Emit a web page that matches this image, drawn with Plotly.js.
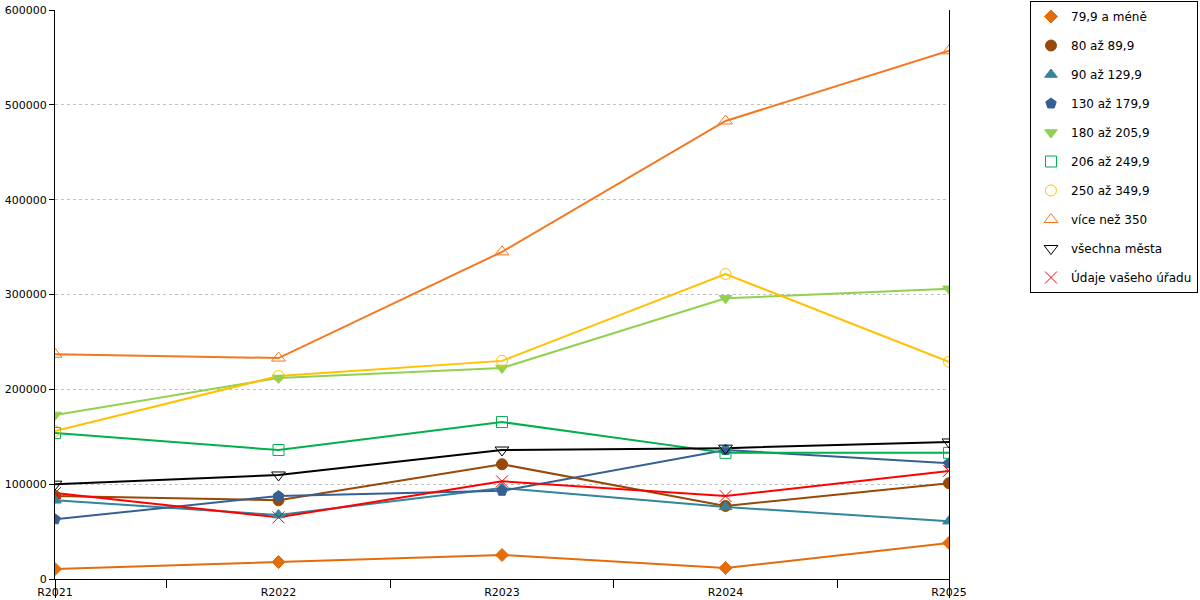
<!DOCTYPE html>
<html>
<head>
<meta charset="utf-8">
<script src="https://cdn.plot.ly/plotly-3.0.1.min.js"></script>
<style>
  html, body { margin: 0; padding: 0; background: #fff; }
  #chart { width: 1200px; height: 600px; }
</style>
</head>
<body>
<div id="chart"></div>
<script>
const years = ["R2021", "R2022", "R2023", "R2024", "R2025"];

const names = [
  "79,9 a méně",
  "80 až 89,9",
  "90 až 129,9",
  "130 až 179,9",
  "180 až 205,9",
  "206 až 249,9",
  "250 až 349,9",
  "více než 350",
  "všechna města",
  "Údaje vašeho úřadu"
];

const s79 = [10500, 17900, 25300, 11600, 38000];
const s80 = [87500, 83000, 121000, 77000, 101000];
const s90 = [83000, 67500, 96000, 76000, 61000];
const s130 = [63000, 87500, 93000, 136000, 122000];
const s180 = [173000, 212000, 222500, 296000, 306000];
const s206 = [154000, 136000, 165500, 133000, 133000];
const s250 = [156000, 214000, 230000, 321600, 229000];
const s350 = [237000, 233000, 345000, 483000, 557000];
const sAll = [100000, 109700, 136000, 138000, 144500];
const sOffice = [90700, 65000, 103000, 87500, 114000];

const values = [s79, s80, s90, s130, s180, s206, s250, s350, sAll, sOffice];

const colors = ["#E46C0A", "#984807", "#31859C", "#366092", "#92D050",
                "#00B050", "#FFC000", "#F5771F", "#000000", "#FF0000"];
const symbols = ["diamond", "circle", "triangle-up", "pentagon", "triangle-down",
                 "square-open", "circle-open", "triangle-up-open", "triangle-down-open", "x-thin-open"];
const sizes = [10, 11, 11, 11, 11, 11, 11, 12, 12, 12];

const midTicks = [0.5, 1.5, 2.5, 3.5];
const edgeTicks = [0, 4];

const data = [];

// lines without markers
values.forEach((vals, i) => {
  data.push({
    x: years, y: vals, type: "scatter", mode: "lines",
    line: { color: colors[i], width: 2 },
    showlegend: false, hoverinfo: "skip"
  });
});

// markers, these also make the legend entries
values.forEach((vals, i) => {
  data.push({
    x: years, y: vals, type: "scatter", mode: "markers",
    name: names[i], legendgroup: "g" + i,
    marker: {
      symbol: symbols[i], size: sizes[i], color: colors[i],
      line: { color: colors[i], width: 1 }
    }
  });
});

// dummy traces so the tick-only axes get drawn
data.push({ x: edgeTicks, y: [null, null], xaxis: "x2", type: "scatter", mode: "lines", showlegend: false, hoverinfo: "skip" });
data.push({ x: edgeTicks, y: [null, null], xaxis: "x3", type: "scatter", mode: "lines", showlegend: false, hoverinfo: "skip" });

const tickFont = { family: "DejaVu Sans", size: 11, color: "#000" };

const layout = {
  width: 1200,
  height: 600,
  margin: { l: 55, r: 251, t: 10, b: 21, pad: 0, autoexpand: false },
  paper_bgcolor: "#fff",
  plot_bgcolor: "#fff",
  font: { family: "DejaVu Sans", size: 12, color: "#000" },
  showlegend: true,
  xaxis: {
    type: "category",
    range: [0, 4],
    showline: true, linecolor: "#000", linewidth: 1,
    ticks: "", showgrid: false, zeroline: false,
    tickfont: tickFont,
    ticklabelstandoff: 3,
    fixedrange: true
  },
  xaxis2: {
    overlaying: "x", anchor: "y",
    range: [0, 4],
    tickmode: "array", tickvals: midTicks,
    ticks: "outside", ticklen: 8, tickcolor: "#000", tickwidth: 1,
    showticklabels: false, showgrid: false, zeroline: false, showline: false
  },
  xaxis3: {
    overlaying: "x", anchor: "y",
    range: [0, 4],
    tickmode: "array", tickvals: edgeTicks,
    ticks: "outside", ticklen: 18, tickcolor: "#000", tickwidth: 1,
    showticklabels: false, showgrid: false, zeroline: false, showline: false
  },
  yaxis: {
    range: [0, 600000],
    dtick: 100000,
    tickformat: "d",
    showline: true, linecolor: "#000", linewidth: 1, mirror: true,
    ticks: "outside", ticklen: 5, tickcolor: "#000",
    showgrid: true, gridcolor: "#c0c0c0", griddash: "dot", gridwidth: 1,
    zeroline: false,
    tickfont: tickFont,
    fixedrange: true
  },
  legend: {
    x: 1.0906, xanchor: "left",
    y: 1.0158, yanchor: "top",
    bordercolor: "#000", borderwidth: 1,
    bgcolor: "#fff",
    font: { family: "DejaVu Sans", size: 12, color: "#000" },
    traceorder: "grouped",
    tracegroupgap: 10,
    itemwidth: 30
  }
};

Plotly.newPlot("chart", data, layout, { displayModeBar: false, staticPlot: true });
</script>
</body>
</html>
